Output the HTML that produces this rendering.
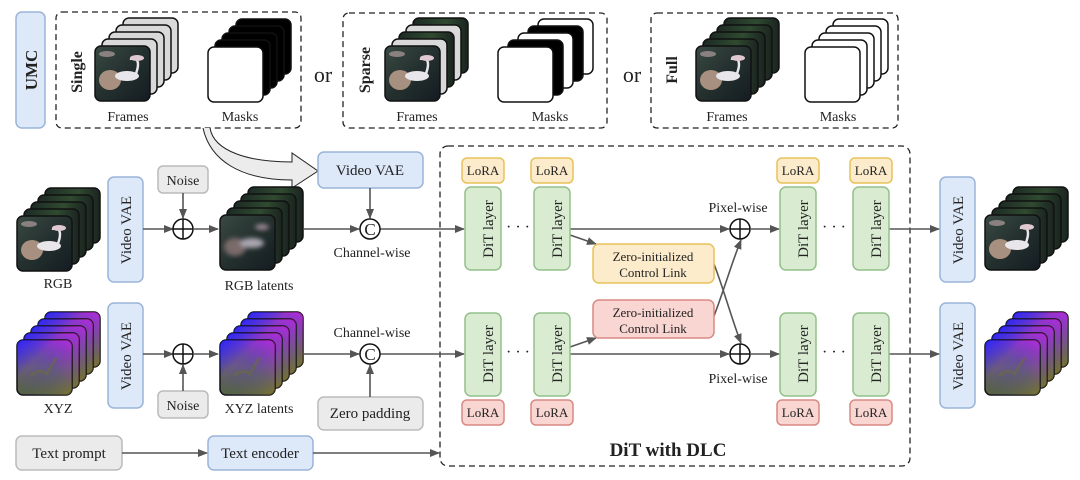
<!DOCTYPE html>
<html><head><meta charset="utf-8"><style>
html,body{margin:0;padding:0;background:#fff}
svg{display:block}
text{font-family:"Liberation Serif",serif;fill:#222}
</style></head><body>
<svg width="1080" height="480" viewBox="0 0 1080 480" xmlns="http://www.w3.org/2000/svg">
<defs>
<linearGradient id="gP" x1="0" y1="0" x2="1" y2="1"><stop offset="0" stop-color="#3a4a44"/><stop offset="0.5" stop-color="#24302e"/><stop offset="1" stop-color="#141c22"/></linearGradient>
<linearGradient id="gB" x1="0" y1="0" x2="1" y2="0"><stop offset="0" stop-color="#1c2a24"/><stop offset="0.6" stop-color="#304a30"/><stop offset="1" stop-color="#1a2420"/></linearGradient>
<linearGradient id="gX" x1="0" y1="0" x2="0" y2="1"><stop offset="0" stop-color="#6a3ad0"/><stop offset="0.5" stop-color="#6a5a80"/><stop offset="1" stop-color="#566a2a"/></linearGradient>
<linearGradient id="gX2" x1="1" y1="0" x2="0" y2="1"><stop offset="0" stop-color="#ff20e0" stop-opacity="0.6"/><stop offset="0.45" stop-color="#b030c0" stop-opacity="0"/></linearGradient>
<linearGradient id="gX3" x1="0" y1="0" x2="1" y2="1"><stop offset="0" stop-color="#2020ff" stop-opacity="0.8"/><stop offset="0.35" stop-color="#2020ff" stop-opacity="0"/><stop offset="1" stop-color="#a08030" stop-opacity="0.5"/></linearGradient>
<filter id="bl"><feGaussianBlur stdDeviation="2.5"/></filter>
<marker id="ar" markerWidth="10" markerHeight="8" refX="9" refY="4" orient="auto" markerUnits="userSpaceOnUse"><path d="M0,0 L10,4 L0,8z" fill="#555"/></marker>
<g id="photo"><rect width="55" height="55" rx="6" fill="url(#gP)" stroke="#111" stroke-width="1.5"/><ellipse cx="15" cy="34" rx="11" ry="10" fill="#a89080"/><ellipse cx="32" cy="30" rx="12" ry="5" fill="#e8e6ea"/><path d="M40,30 q6,-14 0,-18 q-4,-2 -4,2" stroke="#e8e6ea" stroke-width="2.5" fill="none"/><ellipse cx="42" cy="12" rx="7" ry="3" fill="#e0c8d0"/><ellipse cx="12" cy="8" rx="8" ry="3" fill="#8a8080"/></g>
<g id="blur"><rect width="55" height="55" rx="6" fill="url(#gP)" stroke="#111" stroke-width="1.5"/><g filter="url(#bl)"><ellipse cx="15" cy="32" rx="11" ry="9" fill="#7a6a6a"/><ellipse cx="32" cy="28" rx="12" ry="5" fill="#aaa6b0"/><ellipse cx="42" cy="12" rx="7" ry="3" fill="#9a8890"/></g></g>
<g id="back"><rect width="55" height="55" rx="6" fill="url(#gB)" stroke="#111" stroke-width="1.5"/></g>
<g id="gray"><rect width="55" height="55" rx="6" fill="#d9d9d9" stroke="#111" stroke-width="1.5"/></g>
<g id="wh"><rect width="55" height="55" rx="6" fill="#fff" stroke="#111" stroke-width="1.5"/></g>
<g id="bk"><rect width="55" height="55" rx="6" fill="#000" stroke="#111" stroke-width="1.5"/></g>
<g id="xyz"><rect width="55" height="55" rx="6" fill="url(#gX)" stroke="#111" stroke-width="1.5"/><rect width="55" height="55" rx="6" fill="url(#gX2)"/><rect width="55" height="55" rx="6" fill="url(#gX3)"/><path d="M14,36 q8,-8 16,-2 q6,-12 10,-16" stroke="#6a6a40" stroke-width="3" fill="none" opacity="0.6"/></g>
<g id="sRGB"><use href="#back" x="28" y="0"/><use href="#back" x="21" y="7"/><use href="#back" x="14" y="14"/><use href="#back" x="7" y="21"/><use href="#photo" x="0" y="28"/></g>
<g id="sLat"><use href="#back" x="28" y="0"/><use href="#back" x="21" y="7"/><use href="#back" x="14" y="14"/><use href="#back" x="7" y="21"/><use href="#blur" x="0" y="28"/></g>
<g id="sX"><use href="#xyz" x="28" y="0"/><use href="#xyz" x="21" y="7"/><use href="#xyz" x="14" y="14"/><use href="#xyz" x="7" y="21"/><use href="#xyz" x="0" y="28"/></g>
</defs>

<rect x="16" y="12" width="29" height="116" rx="6" fill="#dde8f8" stroke="#9ab4d8" stroke-width="1.5"/>
<text transform="translate(37,70) rotate(-90)" text-anchor="middle" font-size="17" font-weight="bold">UMC</text>
<g fill="none" stroke="#222" stroke-width="1.3" stroke-dasharray="6,4">
<rect x="56" y="12" width="245" height="116" rx="6"/>
<rect x="343" y="13" width="264" height="115" rx="6"/>
<rect x="651" y="13" width="247" height="115" rx="6"/>
<rect x="440" y="146" width="470" height="320" rx="8"/>
</g>
<text x="323" y="82" text-anchor="middle" font-size="22">or</text>
<text x="632" y="82" text-anchor="middle" font-size="22">or</text>

<text transform="translate(82,72) rotate(-90)" text-anchor="middle" font-size="16" font-weight="bold">Single</text>
<g transform="translate(95,18)"><use href="#gray" x="28"/><use href="#gray" x="21" y="7"/><use href="#gray" x="14" y="14"/><use href="#gray" x="7" y="21"/><use href="#photo" y="28"/></g>
<g transform="translate(208,19)"><use href="#bk" x="28"/><use href="#bk" x="21" y="7"/><use href="#bk" x="14" y="14"/><use href="#bk" x="7" y="21"/><use href="#wh" y="28"/></g>
<text x="128" y="121" text-anchor="middle" font-size="14">Frames</text>
<text x="240" y="121" text-anchor="middle" font-size="14">Masks</text>

<text transform="translate(370,70) rotate(-90)" text-anchor="middle" font-size="16" font-weight="bold">Sparse</text>
<g transform="translate(385,18)"><use href="#back" x="28"/><use href="#gray" x="21" y="7"/><use href="#back" x="14" y="14"/><use href="#gray" x="7" y="21"/><use href="#photo" y="28"/></g>
<g transform="translate(498,19)"><use href="#wh" x="40"/><use href="#bk" x="30" y="7"/><use href="#wh" x="20" y="14"/><use href="#bk" x="10" y="21"/><use href="#wh" y="28"/></g>
<text x="417" y="121" text-anchor="middle" font-size="14">Frames</text>
<text x="550" y="121" text-anchor="middle" font-size="14">Masks</text>

<text transform="translate(677,70) rotate(-90)" text-anchor="middle" font-size="16" font-weight="bold">Full</text>
<g transform="translate(696,18)"><use href="#sRGB"/></g>
<g transform="translate(805,19)"><use href="#wh" x="28"/><use href="#wh" x="21" y="7"/><use href="#wh" x="14" y="14"/><use href="#wh" x="7" y="21"/><use href="#wh" y="28"/></g>
<text x="727" y="121" text-anchor="middle" font-size="14">Frames</text>
<text x="838" y="121" text-anchor="middle" font-size="14">Masks</text>

<path d="M210,128 C214,152 250,162 292,162 L292,153 L318,171 L292,188 L292,180 C240,180 210,160 203,128" fill="#ececec" stroke="#222" stroke-width="1"/>

<g stroke-width="1.5">
<rect x="318" y="152" width="105" height="36" rx="6" fill="#dde8f8" stroke="#9ab4d8"/>
<rect x="108" y="177" width="35" height="105" rx="6" fill="#dde8f8" stroke="#9ab4d8"/>
<rect x="108" y="303" width="35" height="105" rx="6" fill="#dde8f8" stroke="#9ab4d8"/>
<rect x="940" y="177" width="35" height="105" rx="6" fill="#dde8f8" stroke="#9ab4d8"/>
<rect x="940" y="303" width="35" height="105" rx="6" fill="#dde8f8" stroke="#9ab4d8"/>
<rect x="208" y="436" width="105" height="34" rx="6" fill="#dde8f8" stroke="#9ab4d8"/>
<rect x="158" y="166" width="50" height="27" rx="5" fill="#ebebeb" stroke="#bbb"/>
<rect x="158" y="391" width="50" height="27" rx="5" fill="#ebebeb" stroke="#bbb"/>
<rect x="318" y="397" width="105" height="33" rx="6" fill="#ebebeb" stroke="#bbb"/>
<rect x="16" y="436" width="106" height="34" rx="6" fill="#ebebeb" stroke="#bbb"/>
</g>
<text x="370" y="175" text-anchor="middle" font-size="15">Video VAE</text>
<text transform="translate(131,230) rotate(-90)" text-anchor="middle" font-size="15">Video VAE</text>
<text transform="translate(131,356) rotate(-90)" text-anchor="middle" font-size="15">Video VAE</text>
<text transform="translate(963,230) rotate(-90)" text-anchor="middle" font-size="15">Video VAE</text>
<text transform="translate(963,356) rotate(-90)" text-anchor="middle" font-size="15">Video VAE</text>
<text x="183" y="185" text-anchor="middle" font-size="14">Noise</text>
<text x="183" y="410" text-anchor="middle" font-size="14">Noise</text>
<text x="370" y="418" text-anchor="middle" font-size="15">Zero padding</text>
<text x="69" y="458" text-anchor="middle" font-size="15">Text prompt</text>
<text x="260" y="458" text-anchor="middle" font-size="15">Text encoder</text>

<g transform="translate(17,188)"><use href="#sRGB"/></g>
<g transform="translate(220,187)"><use href="#sLat"/></g>
<g transform="translate(17,312)"><use href="#sX"/></g>
<g transform="translate(220,312)"><use href="#sX"/></g>
<g transform="translate(985,187)"><use href="#sRGB"/></g>
<g transform="translate(985,312)"><use href="#sX"/></g>
<text x="58" y="288" text-anchor="middle" font-size="14">RGB</text>
<text x="259" y="290" text-anchor="middle" font-size="14">RGB latents</text>
<text x="58" y="413" text-anchor="middle" font-size="14">XYZ</text>
<text x="259" y="413" text-anchor="middle" font-size="14">XYZ latents</text>
<text x="372" y="257" text-anchor="middle" font-size="14">Channel-wise</text>
<text x="372" y="337" text-anchor="middle" font-size="14">Channel-wise</text>

<g stroke="#555" stroke-width="1.6" fill="none" marker-end="url(#ar)">
<line x1="143" y1="229" x2="173" y2="229"/>
<line x1="194" y1="229" x2="218" y2="229"/>
<line x1="183" y1="193" x2="183" y2="218"/>
<line x1="303" y1="229" x2="359" y2="229"/>
<line x1="370" y1="188" x2="370" y2="218"/>
<line x1="380" y1="229" x2="464" y2="229"/>
<line x1="143" y1="354" x2="173" y2="354"/>
<line x1="194" y1="354" x2="218" y2="354"/>
<line x1="183" y1="391" x2="183" y2="365"/>
<line x1="303" y1="354" x2="359" y2="354"/>
<line x1="370" y1="397" x2="370" y2="365"/>
<line x1="380" y1="354" x2="464" y2="354"/>
<line x1="122" y1="453" x2="207" y2="453"/>
<line x1="313" y1="453" x2="439" y2="453"/>
<line x1="570" y1="229" x2="729" y2="229"/>
<line x1="751" y1="229" x2="779" y2="229"/>
<line x1="570" y1="354" x2="729" y2="354"/>
<line x1="751" y1="354" x2="779" y2="354"/>
<line x1="570" y1="235" x2="596" y2="244"/>
<line x1="570" y1="347" x2="596" y2="338"/>
<path d="M714,264 C724,290 732,320 741,343"/>
<path d="M714,316 C724,290 732,262 741,240"/>
<line x1="889" y1="229" x2="939" y2="229"/>
<line x1="889" y1="354" x2="939" y2="354"/>
</g>
<g fill="#fff" stroke="#111" stroke-width="1.5">
<circle cx="183" cy="229" r="10"/><circle cx="183" cy="354" r="10"/>
<circle cx="740" cy="229" r="10"/><circle cx="740" cy="354" r="10"/>
<circle cx="370" cy="229" r="10"/><circle cx="370" cy="354" r="10"/>
</g>
<g stroke="#111" stroke-width="1.5">
<path d="M173,229h20M183,219v20M173,354h20M183,344v20M730,229h20M740,219v20M730,354h20M740,344v20"/>
</g>
<text x="370" y="235" text-anchor="middle" font-size="17">C</text>
<text x="370" y="360" text-anchor="middle" font-size="17">C</text>
<text x="738" y="212" text-anchor="middle" font-size="14">Pixel-wise</text>
<text x="738" y="383" text-anchor="middle" font-size="14">Pixel-wise</text>

<g stroke-width="1.5">
<rect x="465" y="187" width="36" height="83" rx="6" fill="#d9ecd2" stroke="#93c08a"/>
<rect x="534" y="187" width="36" height="83" rx="6" fill="#d9ecd2" stroke="#93c08a"/>
<rect x="780" y="187" width="36" height="83" rx="6" fill="#d9ecd2" stroke="#93c08a"/>
<rect x="853" y="187" width="36" height="83" rx="6" fill="#d9ecd2" stroke="#93c08a"/>
<rect x="465" y="313" width="36" height="83" rx="6" fill="#d9ecd2" stroke="#93c08a"/>
<rect x="534" y="313" width="36" height="83" rx="6" fill="#d9ecd2" stroke="#93c08a"/>
<rect x="780" y="313" width="36" height="83" rx="6" fill="#d9ecd2" stroke="#93c08a"/>
<rect x="853" y="313" width="36" height="83" rx="6" fill="#d9ecd2" stroke="#93c08a"/>
<rect x="462" y="158" width="42" height="25" rx="5" fill="#fdeccc" stroke="#e8c25a"/>
<rect x="531" y="158" width="42" height="25" rx="5" fill="#fdeccc" stroke="#e8c25a"/>
<rect x="777" y="158" width="42" height="25" rx="5" fill="#fdeccc" stroke="#e8c25a"/>
<rect x="850" y="158" width="42" height="25" rx="5" fill="#fdeccc" stroke="#e8c25a"/>
<rect x="462" y="400" width="42" height="25" rx="5" fill="#f9d6d2" stroke="#d88a84"/>
<rect x="531" y="400" width="42" height="25" rx="5" fill="#f9d6d2" stroke="#d88a84"/>
<rect x="777" y="400" width="42" height="25" rx="5" fill="#f9d6d2" stroke="#d88a84"/>
<rect x="850" y="400" width="42" height="25" rx="5" fill="#f9d6d2" stroke="#d88a84"/>
<rect x="593" y="244" width="121" height="39" rx="6" fill="#fdeccc" stroke="#e8c25a"/>
<rect x="593" y="300" width="121" height="38" rx="6" fill="#f9d6d2" stroke="#d88a84"/>
</g>
<g font-size="15" text-anchor="middle">
<text transform="translate(488,229) rotate(-90)" dy="5">DiT layer</text>
<text transform="translate(557,229) rotate(-90)" dy="5">DiT layer</text>
<text transform="translate(803,229) rotate(-90)" dy="5">DiT layer</text>
<text transform="translate(876,229) rotate(-90)" dy="5">DiT layer</text>
<text transform="translate(488,354) rotate(-90)" dy="5">DiT layer</text>
<text transform="translate(557,354) rotate(-90)" dy="5">DiT layer</text>
<text transform="translate(803,354) rotate(-90)" dy="5">DiT layer</text>
<text transform="translate(876,354) rotate(-90)" dy="5">DiT layer</text>
</g>
<g font-size="13" text-anchor="middle">
<text x="483" y="175">LoRA</text><text x="552" y="175">LoRA</text><text x="798" y="175">LoRA</text><text x="871" y="175">LoRA</text>
<text x="483" y="417">LoRA</text><text x="552" y="417">LoRA</text><text x="798" y="417">LoRA</text><text x="871" y="417">LoRA</text>
<text x="653" y="261">Zero-initialized</text><text x="653" y="277">Control Link</text>
<text x="653" y="317">Zero-initialized</text><text x="653" y="333">Control Link</text>
</g>
<g font-size="16" text-anchor="middle">
<text x="518" y="232">· · ·</text><text x="834" y="232">· · ·</text>
<text x="518" y="357">· · ·</text><text x="834" y="357">· · ·</text>
</g>
<text x="668" y="456" text-anchor="middle" font-size="19" font-weight="bold">DiT with DLC</text>
</svg>
</body></html>
